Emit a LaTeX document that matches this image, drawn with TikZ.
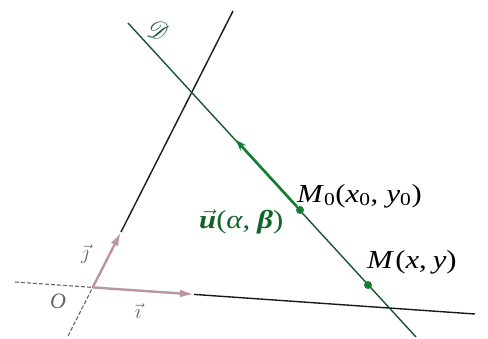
\documentclass[tikz,border=0pt]{standalone}
\usepackage{fontspec}
\setmainfont{Liberation Serif}
\usepackage{mathrsfs}
\usetikzlibrary{arrows.meta}
\definecolor{dgreen}{RGB}{25,85,50}
\definecolor{vgreen}{RGB}{20,125,50}
\definecolor{pinkgray}{RGB}{185,150,160}
\newcommand{\widetext}[1]{\scalebox{1.18}[1]{#1}}
\begin{document}
\begin{tikzpicture}[x=1pt,y=-1pt,
  axis/.style={line width=1.4pt,black!90},
  negaxis/.style={line width=1.1pt,black!60,dash pattern=on 4pt off 2pt},
  basevec/.style={line width=2.4pt,pinkgray,-{Latex[open,length=14pt,width=8pt]}},
  linedee/.style={line width=1.4pt,dgreen},
  uvec/.style={line width=2.6pt,vgreen,-{Stealth[length=11pt,width=8pt]}},
  pt/.style={circle,fill=vgreen,inner sep=0pt,minimum size=8pt},
  lbl/.style={font=\fontsize{26}{28}\selectfont,inner sep=0pt},
  smalllbl/.style={font=\fontsize{20}{22}\selectfont,text=black!60,inner sep=0pt}]
\useasboundingbox (0,0) rectangle (488,338);
% coordinates
\coordinate (YB) at (68,336);
\coordinate (YT) at (233,11);
\coordinate (XL) at (15,282);
\coordinate (XR) at (475,314);
\coordinate (O) at (92.7,287.4);
\coordinate (I) at (194,294.4);
\coordinate (J) at (121,232);
\coordinate (D1) at (128,23);
\coordinate (D2) at (416,337);
\coordinate (U) at (236,140);
% axes
\draw[negaxis] (XL) -- (O);
\draw[negaxis] (YB) -- (O);
\draw[axis] (I) -- (XR);
\draw[axis] (J) -- (YT);
\draw[basevec] (O) -- (I);
\draw[basevec] (O) -- (J);
% line D
\draw[linedee] (D1) -- (D2);
\node[pt] (M0) at (300,210) {};
\node[pt] (M) at (368,285) {};
\draw[uvec] (M0) -- (U);
% labels
\node[text=dgreen,font=\fontsize{28}{30}\selectfont,rotate=-12] (Dlab) at (158,30) {$\mathscr{D}$};
\node[lbl,anchor=west] (M0lab) at (297,196) {\widetext{\textit{M}\textsubscript{0}(\textit{x}\textsubscript{0},\kern7pt\textit{y}\textsubscript{0})}};
\node[lbl,anchor=west] (Mlab) at (367,262) {\widetext{\textit{M}\kern1pt(\textit{x},\kern5pt\textit{y})}};
\node[lbl,text=vgreen!80!black,anchor=west] (ulab) at (199,222) {\widetext{$\vec{\mbox{\bfseries\itshape u}}$(\textit{α},\kern6pt\textbf{\textit{β}})}};
\node[smalllbl,font=\fontsize{22}{24}\selectfont\itshape] (Olab) at (58,301) {O};
\node[smalllbl] (jlab) at (85,254) {$\vec{\jmath}$};
\node[smalllbl] (ilab) at (138,311) {$\vec{\imath}$};
\end{tikzpicture}
\end{document}
